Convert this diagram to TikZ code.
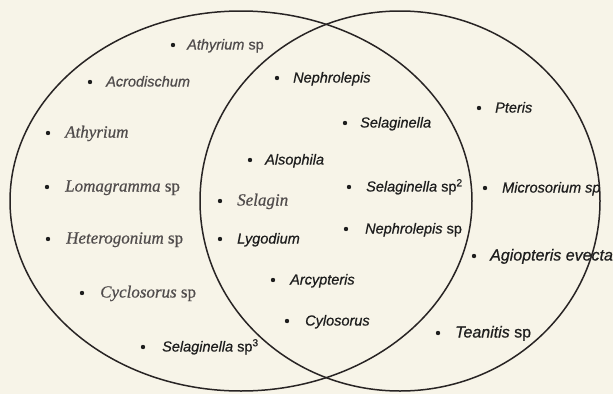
\documentclass[tikz,border=0pt]{standalone}
\usepackage{fontspec}
\setmainfont{Liberation Sans}[FakeBold=0.6]
\newfontfamily\tms{Liberation Serif}[FakeBold=0.6]
\definecolor{bg}{RGB}{247,244,232}
\definecolor{ink}{RGB}{30,30,30}
\definecolor{faint}{RGB}{80,76,76}
\definecolor{rim}{RGB}{40,36,36}
\tikzset{
  txt/.style={anchor=base west, inner sep=0pt, font=\fontsize{14.5}{16}\selectfont\itshape, text=ink},
  txtbig/.style={txt, font=\fontsize{16}{18}\selectfont\itshape},
  txtf/.style={txt, text=faint},
  tm/.style={anchor=base west, inner sep=0pt, font=\fontsize{17}{19}\tms\itshape, text=faint},
  bul/.style={circle, fill=ink, inner sep=0pt, minimum size=4.4pt},
  rimline/.style={draw=rim, line width=1.5pt}
}
\newcommand\fern[6]{%
  \node[bul] (#1b) at (#2,#4) {};
  \node[#5] (#1) at (#3,#4+4.5) {#6};}
\begin{document}
\begin{tikzpicture}[x=1pt,y=-1pt]
\fill[bg] (0,0) rectangle (613,394);
\useasboundingbox (0,0) rectangle (613,394);
\draw[rimline] (241,201) ellipse [x radius=231pt, y radius=190pt];
\draw[rimline] (400,201) ellipse [x radius=200pt, y radius=190pt];
% left only
\fern{a1}{173}{187}{45}{txtf}{Athyrium \upshape sp}
\fern{a2}{90}{106}{82}{txtf}{Acrodischum}
\fern{a3}{48}{65}{133}{tm}{Athyrium}
\fern{a4}{47}{65}{187}{tm}{Lomagramma \upshape sp}
\fern{a5}{48}{66}{239}{tm}{Heterogonium \upshape sp}
\fern{a6}{82}{100}{293}{tm}{Cyclosorus \upshape sp}
\fern{a7}{143}{162}{347}{txt}{Selaginella \upshape sp\textsuperscript{3}}
% middle
\fern{b1}{277}{293}{78}{txt}{Nephrolepis}
\fern{b2}{345}{360}{123}{txt}{Selaginella}
\fern{b3}{250}{265}{160}{txt}{Alsophila}
\fern{b4}{349}{366}{187}{txt}{Selaginella \upshape sp\textsuperscript{2}}
\fern{b5}{220}{237}{201}{tm}{Selagin}
\fern{b6}{346}{365}{229}{txt}{Nephrolepis \upshape sp}
\fern{b7}{220}{237}{239}{txt}{Lygodium}
\fern{b8}{273}{290}{280}{txt}{Arcypteris}
\fern{b9}{287}{305}{321}{txt}{Cylosorus}
% right only
\fern{c1}{479}{495}{108}{txt}{Pteris}
\fern{c2}{485}{502}{188}{txt}{Microsorium sp}
\fern{c3}{474}{490}{256}{txtbig}{Agiopteris evecta}
\fern{c4}{438}{455}{333}{txtbig}{Teanitis \upshape sp}
\end{tikzpicture}
\end{document}
